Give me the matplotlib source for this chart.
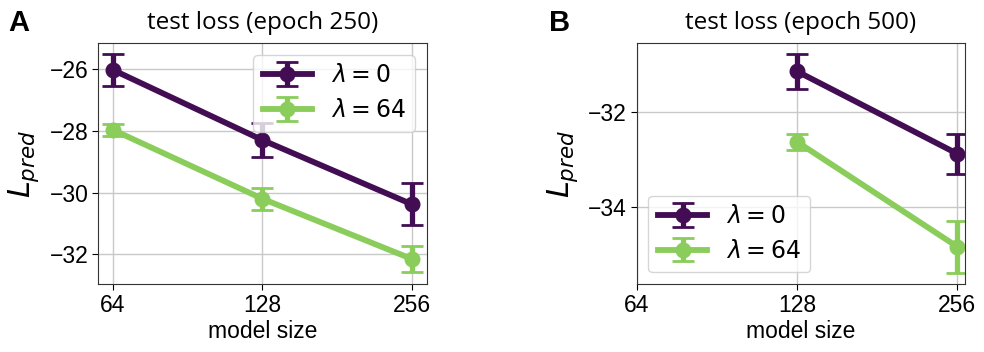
import matplotlib
matplotlib.use("Agg")
import matplotlib.pyplot as plt
import numpy as np

plt.rcParams['font.family'] = ['Liberation Sans', 'DejaVu Sans']
plt.rcParams['mathtext.fontset'] = 'dejavusans'

sizes_a = [64, 128, 256]
a_lam0 = [-26.03, -28.30, -30.38]
a_lam0_err = [0.52, 0.56, 0.68]
a_lam64 = [-27.97, -30.20, -32.15]
a_lam64_err = [0.20, 0.35, 0.42]

sizes_b = [128, 256]
b_lam0 = [-31.16, -32.88]
b_lam0_err = [0.37, 0.42]
b_lam64 = [-32.63, -34.82]
b_lam64_err = [0.17, 0.54]

xticks = [64, 128, 256]
labels = [r'$\lambda = 0$', r'$\lambda = 64$']
c0 = '#420d53'
c1 = '#8acd5b'

fig = plt.figure(figsize=(9.84, 3.52), dpi=100)
axA = fig.add_axes([0.0996, 0.193, 0.3343, 0.6847])
axB = fig.add_axes([0.647, 0.193, 0.334, 0.6847])

def draw(ax, x, y0, e0, y1, e1, title, loc, ylim, yticks):
    ekw = dict(lw=4.2, marker='o', ms=10.5, capsize=8, elinewidth=3.8, capthick=2)
    ax.errorbar(x, y0, yerr=e0, color=c0, label=labels[0], **ekw)
    ax.errorbar(x, y1, yerr=e1, color=c1, label=labels[1], **ekw)
    ax.set_xscale('log', base=2)
    ax.set_xticks(xticks)
    ax.set_xticklabels([str(v) for v in xticks])
    ax.minorticks_off()
    ax.set_ylim(*ylim)
    ax.set_yticks(yticks)
    ax.set_yticklabels([f'\u2212{abs(v)}' for v in yticks])
    ax.grid(True, color='#c8c8c8', lw=1)
    ax.set_axisbelow(True)
    ax.tick_params(labelsize=16.5, length=4, pad=3)
    ax.set_xlabel('model size', fontsize=16.5, labelpad=2)
    ax.set_ylabel(r'$L_{pred}$', fontsize=22, labelpad=6)
    ax.set_title(title, fontsize=17.5, family=['Open Sans', 'DejaVu Sans'], pad=10)
    for s in ax.spines.values():
        s.set_color('#333333')
    ax.legend(loc=loc, fontsize=17, handlelength=2.1, framealpha=0.8,
              borderaxespad=0.5, labelspacing=0.5)

draw(axA, sizes_a, a_lam0, a_lam0_err, a_lam64, a_lam64_err,
     'test loss (epoch 250)', 'upper right', (-32.96, -25.16), [-32, -30, -28, -26])
draw(axB, sizes_b, b_lam0, b_lam0_err, b_lam64, b_lam64_err,
     'test loss (epoch 500)', 'lower left', (-35.6, -30.57), [-34, -32])

fig.text(0.008, 0.975, 'A', fontsize=21, fontweight='bold', va='top', ha='left')
fig.text(0.558, 0.975, 'B', fontsize=21, fontweight='bold', va='top', ha='left')

fig.savefig('out.png', dpi=100)
